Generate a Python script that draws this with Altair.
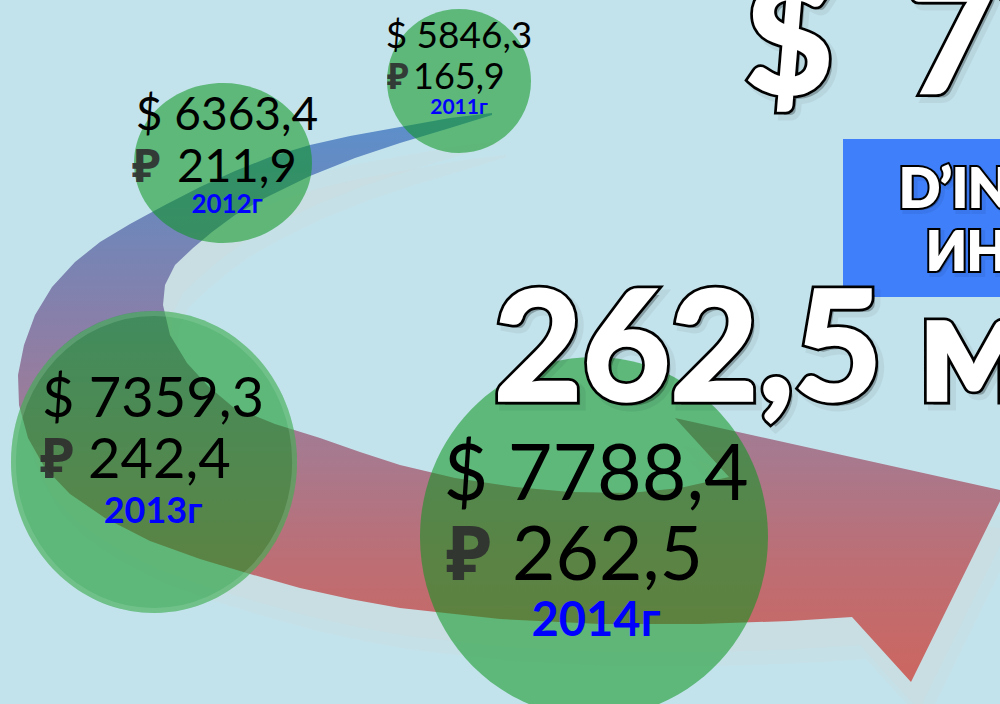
import altair as alt
import pandas as pd

# ---- data ----
years = ["2011г", "2012г", "2013г", "2014г"]
usd_values = [5846.3, 6363.4, 7359.3, 7788.4]
rub_values = [165.9, 211.9, 242.4, 262.5]

headline_texts = ["$\u00a0\u00a07788,4 млн", "262,5 млрд ₽"]
box_texts = ["D’INVESTISSEMENTS", "ИНВЕСТИЦИЙ"]

# ---- layout (pixel canvas 1000 x 704) ----
bubble_cx = [459, 223, 154, 594]
bubble_cy = [81, 163, 462, 537]
bubble_rx = [72, 89, 143, 174]
bubble_ry = [72, 80, 151, 180]
bubble_ring = [0, 0, 5, 0]

usd_x = [459, 227, 153, 596]
usd_y = [48, 130, 417, 500]
usd_size = [37, 46, 56, 77]
rub_sign_x = [387, 132, 40, 446]
rub_num_x = [413, 177, 88, 512]
rub_y = [89, 182, 478, 580]
rub_size = [36, 47, 56, 75]
year_y = [114, 213, 523, 636]
year_size = [21, 26, 36, 47]

headline_x = [745, 494]
headline_y = [93, 400]
headline_size = [152, 152]

box_x0, box_x1, box_y0, box_y1 = [843], [1000], [139], [297]
box_text_x = [899, 926]
box_text_y = [207, 270]
box_text_size = [54, 53]

# arrow outline (outer edge, head, inner edge)
arrow_x = [492, 450, 400, 350, 310, 270, 235, 200, 165, 130, 100, 75, 52, 35, 24, 18, 19, 28, 45, 70,
           105, 150, 200, 250, 300, 350, 400, 500, 600, 700, 790, 852,
           911, 1005, 675, 729,
           680, 630, 570, 515, 455, 400, 360, 320, 275, 233, 208, 187, 170, 163, 165, 175, 193,
           212, 235, 265, 310, 355, 400, 450, 492]
arrow_y = [113, 118, 127, 136, 145, 157, 171, 187, 205, 224, 242, 262, 287, 315, 345, 375, 405, 438, 468, 494,
           518, 541, 559, 574, 588, 599, 608, 619, 624, 624, 621, 617,
           682, 491, 418, 477,
           488, 493, 492, 487, 478, 465, 452, 438, 424, 407, 386, 363, 335, 305, 285, 265, 248,
           232, 215, 198, 176, 158, 143, 128, 115]

# faint ghost shadows of the arrow (offsets in px)
shadow_dx = [8, 14]
shadow_dy = [28, 42]

BG = "#c3e3ec"
FONT = "Lato, Noto Sans"


def fmt(v):
    return f"{v:.1f}".replace(".", ",")


def feature(xs, ys, dx=0, dy=0):
    ring = [[x + dx, y + dy] for x, y in zip(xs, ys)]
    ring.append(ring[0])
    return {"type": "Feature", "properties": {},
            "geometry": {"type": "Polygon", "coordinates": [ring]}}


arrow_feature = [feature(arrow_x, arrow_y)]
shadow_features = [feature(arrow_x, arrow_y, dx, dy) for dx, dy in zip(shadow_dx, shadow_dy)]

bubbles = pd.DataFrame({
    "year": years,
    "x": bubble_cx,
    "y": bubble_cy,
    "size": [(2 * max(a, b)) ** 2 for a, b in zip(bubble_rx, bubble_ry)],
    "shape": [
        "M {a} 0 A {a} {b} 0 1 0 {na} 0 A {a} {b} 0 1 0 {a} 0 Z".format(
            a=round(a / max(a, b), 4), b=round(b / max(a, b), 4), na=-round(a / max(a, b), 4))
        for a, b in zip(bubble_rx, bubble_ry)
    ],
    "ring": bubble_ring,
})
rings = bubbles[bubbles["ring"] > 0].copy()
rings["size"] = [(2 * (max(a, b) - w / 2)) ** 2 for a, b, w in
                 zip([bubble_rx[i] for i in rings.index], [bubble_ry[i] for i in rings.index], rings["ring"])]

usd_df = pd.DataFrame({"x": usd_x, "y": usd_y, "t": ["$ " + fmt(v) for v in usd_values], "s": usd_size})
rub_sign_df = pd.DataFrame({"x": rub_sign_x, "y": rub_y, "t": ["₽"] * 4, "s": rub_size})
rub_num_df = pd.DataFrame({"x": rub_num_x, "y": rub_y, "t": [fmt(v) for v in rub_values], "s": rub_size})
year_df = pd.DataFrame({"x": usd_x, "y": year_y, "t": years, "s": year_size})
head_df = pd.DataFrame({"x": headline_x, "y": headline_y, "t": headline_texts, "s": headline_size})
boxt_df = pd.DataFrame({"x": box_text_x, "y": box_text_y, "t": box_texts, "s": box_text_size})
box_df = pd.DataFrame({"x": box_x0, "x2": box_x1, "y": box_y0, "y2": box_y1})

X = alt.X("x:Q", scale=alt.Scale(domain=[0, 1000], nice=False, zero=False), axis=None)
Y = alt.Y("y:Q", scale=alt.Scale(domain=[0, 704], nice=False, zero=False, reverse=True), axis=None)
S = alt.Size("s:Q", scale=None, legend=None)

gradient = alt.Gradient(
    gradient="linear", x1=0, x2=0, y1=0, y2=1,
    stops=[
        alt.GradientStop(color="#5b90cc", offset=0),
        alt.GradientStop(color="#6a88bd", offset=0.15),
        alt.GradientStop(color="#8a7fa8", offset=0.38),
        alt.GradientStop(color="#a67a90", offset=0.59),
        alt.GradientStop(color="#bd6e74", offset=0.79),
        alt.GradientStop(color="#cc6660", offset=1),
    ],
)

PROJ = dict(type="identity", scale=1, translate=[0, 0])

shadow = alt.Chart(alt.Data(values=shadow_features)).mark_geoshape(
    fill="#d2d8d8", fillOpacity=0.22, strokeWidth=0, clip=True
).project(**PROJ)

arrow = alt.Chart(alt.Data(values=arrow_feature)).mark_geoshape(
    fill=gradient, strokeWidth=0, clip=True
).project(**PROJ)

bubble_layer = alt.Chart(bubbles).mark_point(
    filled=True, color="#0a961e", opacity=0.55, strokeWidth=0
).encode(
    x=X, y=Y,
    size=alt.Size("size:Q", scale=None, legend=None),
    shape=alt.Shape("shape:N", scale=None, legend=None),
)

ring_layer = alt.Chart(rings).mark_point(
    filled=False, color="#b8e6c6", opacity=0.2
).encode(
    x=X, y=Y,
    size=alt.Size("size:Q", scale=None, legend=None),
    shape=alt.Shape("shape:N", scale=None, legend=None),
    strokeWidth=alt.StrokeWidth("ring:Q", scale=None, legend=None),
)

usd_layer = alt.Chart(usd_df).mark_text(font=FONT, color="#000000", align="center", baseline="alphabetic").encode(
    x=X, y=Y, text="t:N", size=S)
rub_sign_layer = alt.Chart(rub_sign_df).mark_text(
    font="Noto Sans, DejaVu Sans", fontWeight="bold", color="#2e2e2e", opacity=0.9,
    align="left", baseline="alphabetic").encode(x=X, y=Y, text="t:N", size=S)
rub_num_layer = alt.Chart(rub_num_df).mark_text(font=FONT, color="#000000", align="left", baseline="alphabetic").encode(
    x=X, y=Y, text="t:N", size=S)
year_layer = alt.Chart(year_df).mark_text(font=FONT, fontWeight="bold", color="#0000ff",
                                          align="center", baseline="alphabetic").encode(
    x=X, y=Y, text="t:N", size=S)

box_layer = alt.Chart(box_df).mark_rect(color="#3f7ffa", clip=True).encode(
    x=X, x2="x2:Q", y=Y, y2="y2:Q")


def outlined(df, outline, thicken, shadow_off):
    base = alt.Chart(df).encode(x=X, y=Y, text="t:N", size=S)
    common = dict(font=FONT, fontWeight="bold", align="left", baseline="alphabetic", clip=True)
    shadow_ = base.mark_text(color="#000000", opacity=0.3, stroke="#000000", strokeWidth=outline + 2,
                             strokeOpacity=0.18, dx=shadow_off, dy=shadow_off, **common)
    ring_ = base.mark_text(color="#ffffff", stroke="#000000", strokeWidth=outline, **common)
    fill_ = base.mark_text(color="#ffffff", stroke="#ffffff", strokeWidth=thicken, **common)
    return [shadow_, ring_, fill_]


chart = alt.layer(
    shadow, arrow, bubble_layer, ring_layer, box_layer,
    *outlined(head_df, 9, 3.5, 5),
    *outlined(boxt_df, 6, 2, 3),
    usd_layer, rub_sign_layer, rub_num_layer, year_layer,
).properties(
    width=1000, height=704, background=BG, padding=0,
    autosize=alt.AutoSizeParams(type="none"),
).configure_view(strokeWidth=0)

chart.save("out.html", embed_options={"renderer": "svg", "actions": False})
